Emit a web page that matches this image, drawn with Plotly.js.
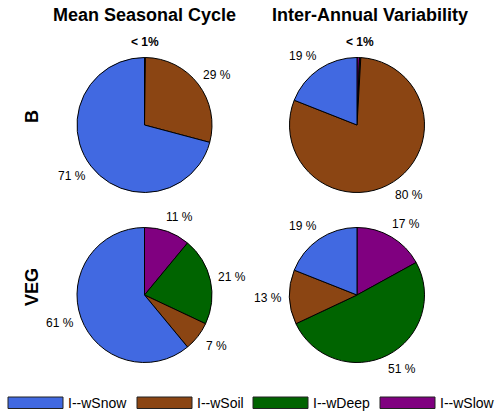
<!DOCTYPE html>
<html>
<head>
<meta charset="utf-8">
<script src="https://cdn.plot.ly/plotly-3.0.1.min.js"></script>
<style>html,body{margin:0;padding:0;background:#fff;}#chart{width:500px;height:418px;}</style>
</head>
<body>
<div id="chart"></div>
<script>
// ---- data ----
var categories = ['I--wSnow', 'I--wSoil', 'I--wDeep', 'I--wSlow'];
var colors = ['#4169E1', '#8B4513', '#006400', '#800080'];
var columnTitles = ['Mean Seasonal Cycle', 'Inter-Annual Variability'];
var rowTitles = ['B', 'VEG'];
var mscB = [71, 29, 0.1, 0.1];
var iavB = [19, 80, 0.3, 0.6];
var mscVEG = [61, 7, 21, 11];
var iavVEG = [19, 13, 51, 17];

// ---- layout constants ----
var W = 500, H = 418;
var FONT = 'Liberation Sans, Arial, Helvetica, sans-serif';
function px(x) { return x / W; }
function py(y) { return 1 - y / H; }
var R = 67.5;
var LABEL_R = 1.2 * R;
var centers = [[144.5, 125], [357, 125], [144.5, 295], [357, 295]];
var legendX = [8, 137, 253, 380];

function rev(a) { return a.slice().reverse(); }
function clamp(v) { return Math.max(-1, Math.min(1, v)); }

var series = [mscB, iavB, mscVEG, iavVEG];
var annotations = [];
var shapes = [];

var data = series.map(function (vals, k) {
  var c = centers[k];
  // slices run counter-clockwise from 12 o'clock in category order,
  // i.e. clockwise from 12 o'clock in reversed order
  return {
    type: 'pie',
    labels: rev(categories),
    values: rev(vals),
    textinfo: 'none',
    sort: false,
    direction: 'clockwise',
    rotation: 0,
    marker: { colors: rev(colors), line: { color: '#000', width: 1 } },
    hoverinfo: 'none',
    showlegend: false,
    domain: { x: [px(c[0] - R), px(c[0] + R)], y: [py(c[1] + R), py(c[1] - R)] }
  };
});

// percentage labels, placed at each slice's mid-angle (small slices grouped)
series.forEach(function (vals, k) {
  var c = centers[k];
  var total = vals.reduce(function (a, b) { return a + b; }, 0);
  var cum = 0, smallStart = null, smallEnd = null;
  var items = [];
  vals.forEach(function (v) {
    var f0 = cum / total; cum += v; var f1 = cum / total;
    if (v < 1) {
      if (smallStart === null) smallStart = f0;
      smallEnd = f1;
    } else {
      items.push({ mid: (f0 + f1) / 2, text: Math.round(v) + ' %', bold: false });
    }
  });
  if (smallStart !== null) items.push({ mid: (smallStart + smallEnd) / 2, text: '< 1%', bold: true });
  items.forEach(function (it) {
    var th = -2 * Math.PI * it.mid; // clockwise angle from 12 o'clock
    var s = Math.sin(th), co = Math.cos(th);
    var x = c[0] + LABEL_R * s + 8 * clamp(3 * s);
    var y = c[1] - LABEL_R * co - 2 * co;
    annotations.push({ xref: 'paper', yref: 'paper', x: px(x), y: py(y), xanchor: 'center', yanchor: 'middle',
      text: it.bold ? '<b>' + it.text + '</b>' : it.text, showarrow: false,
      font: { family: FONT, size: 12, color: '#000' } });
  });
});

// column titles
[[144, columnTitles[0]], [370, columnTitles[1]]].forEach(function (t) {
  annotations.push({ xref: 'paper', yref: 'paper', x: px(t[0]), y: py(15.5), xanchor: 'center', yanchor: 'middle',
    text: '<b>' + t[1] + '</b>', showarrow: false, font: { family: FONT, size: 18, color: '#000' } });
});
// row titles
[[117, rowTitles[0]], [287, rowTitles[1]]].forEach(function (t) {
  annotations.push({ xref: 'paper', yref: 'paper', x: px(32), y: py(t[0]), xanchor: 'center', yanchor: 'middle',
    text: '<b>' + t[1] + '</b>', textangle: -90, showarrow: false, font: { family: FONT, size: 18, color: '#000' } });
});
// legend
categories.forEach(function (name, i) {
  var x0 = legendX[i];
  shapes.push({ type: 'rect', xref: 'paper', yref: 'paper', x0: px(x0), x1: px(x0 + 55), y0: py(408.5), y1: py(397),
    fillcolor: colors[i], line: { color: '#222', width: 1 } });
  annotations.push({ xref: 'paper', yref: 'paper', x: px(x0 + 58), y: py(403), xanchor: 'left', yanchor: 'middle',
    text: name, showarrow: false, font: { family: FONT, size: 14, color: '#000' } });
});

var layout = {
  width: W, height: H,
  margin: { l: 0, r: 0, t: 0, b: 0 },
  paper_bgcolor: '#fff',
  showlegend: false,
  font: { family: FONT, color: '#000' },
  annotations: annotations,
  shapes: shapes
};

Plotly.newPlot('chart', data, layout, { displayModeBar: false, staticPlot: true });
</script>
</body>
</html>
